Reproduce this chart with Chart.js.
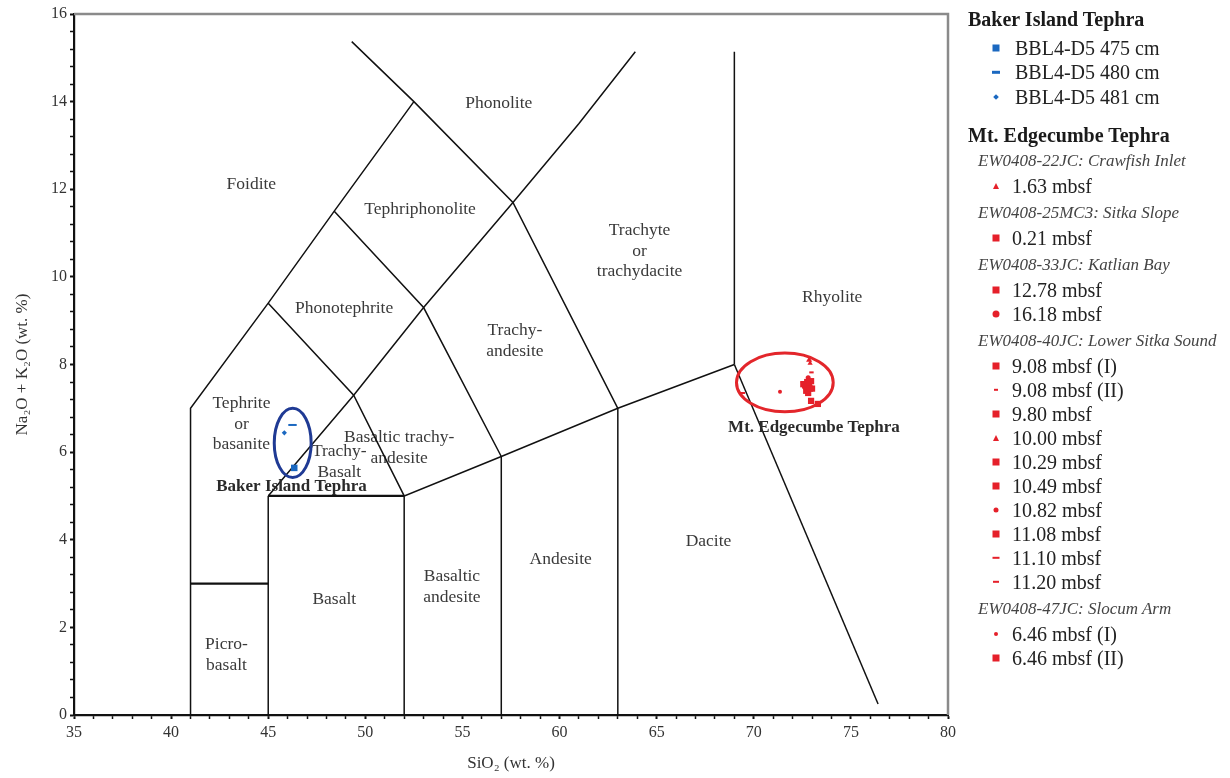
<!DOCTYPE html>
<html><head><meta charset="utf-8">
<script src="https://cdn.jsdelivr.net/npm/chart.js@4.4.1/dist/chart.umd.min.js"></script>
<style>
html,body{margin:0;padding:0;background:#fff;}
#wrap{position:absolute;left:0;top:0;width:960px;height:778px;}
#legend{position:absolute;left:0;top:0;width:1230px;height:778px;font-family:"Liberation Serif","Times New Roman",serif;color:#222;}
.row{position:absolute;white-space:nowrap;transform:translateY(-50%);line-height:1;}
.hdr{font-weight:bold;font-size:20px;color:#1a1a1a;}
.sub{font-style:italic;font-size:17px;color:#444;}
.item{font-size:20px;color:#222;}
.mk{position:absolute;transform:translate(-50%,-50%);}
</style></head>
<body>
<div id="wrap"><canvas id="c" width="960" height="778"></canvas></div>
<div id="legend"></div>
<script>
// ---------- DATA ----------
const xMajorTicks = [35,40,45,50,55,60,65,70,75,80];
const yMajorTicks = [0,2,4,6,8,10,12,14,16];

// TAS field boundaries (SiO2, Na2O+K2O)
const boundaryLines = [
  [[41,0],[41,7],[45,9.4],[48.4,11.5],[52.5,14]],
  [[41,3],[45,3]],
  [[45,0],[45,5]],
  [[45,5],[52,5]],
  [[52,0],[52,5],[57,5.9],[63,7],[69,8]],
  [[57,0],[57,5.9]],
  [[63,0],[63,7]],
  [[69,8],[69,15.14]],
  [[69,8],[76.4,0.25]],
  [[45,5],[49.4,7.3],[53,9.3],[57.6,11.7],[61,13.5],[63.9,15.14]],
  [[45,9.4],[49.4,7.3],[52,5]],
  [[48.4,11.5],[53,9.3],[57,5.9]],
  [[49.3,15.37],[52.5,14],[57.6,11.7],[63,7]]
];
const thickBoundary = [false,true,false,true,false,false,false,false,false,false,false,false,false];

const fieldNames = ['Phonolite','Foidite','Tephriphonolite','Trachyte\nor\ntrachydacite','Rhyolite','Phonotephrite',
  'Trachy-\nandesite','Tephrite\nor\nbasanite','Basaltic trachy-\nandesite','Trachy-\nBasalt','Dacite','Andesite',
  'Basaltic\nandesite','Basalt','Picro-\nbasalt'];
const fieldX = [56.87,44.13,52.82,64.12,74.04,48.91,57.7,43.62,51.74,48.66,67.67,60.06,54.46,48.4,42.85];
const fieldY = [13.97,12.10,11.53,10.59,9.54,9.29,8.54,6.64,6.10,5.78,3.97,3.56,2.92,2.63,1.37];

const groupNames = ['Baker Island Tephra','Mt. Edgecumbe Tephra'];
const groupLabelX = [46.2,73.1];
const groupLabelY = [5.21,6.55];
const ellipseCx = [46.26,71.6];
const ellipseCy = [6.21,7.59];
const ellipseRx = [0.95,2.49];
const ellipseRy = [0.79,0.67];

const bakerLabels = ['BBL4-D5 475 cm','BBL4-D5 480 cm','BBL4-D5 481 cm'];
const bakerSiO2 = [[46.34],[46.25],[45.83]];
const bakerAlk  = [[5.64],[6.62],[6.44]];

const edgeCores = ['EW0408-22JC: Crawfish Inlet','EW0408-25MC3: Sitka Slope','EW0408-33JC: Katlian Bay',
  'EW0408-40JC: Lower Sitka Sound','EW0408-47JC: Slocum Arm'];
const edgeLabels = ['1.63 mbsf','0.21 mbsf','12.78 mbsf','16.18 mbsf','9.08 mbsf (I)','9.08 mbsf (II)','9.80 mbsf',
  '10.00 mbsf','10.29 mbsf','10.49 mbsf','10.82 mbsf','11.08 mbsf','11.10 mbsf','11.20 mbsf','6.46 mbsf (I)','6.46 mbsf (II)'];
const edgeCoreIndex = [0,1,2,2,3,3,3,3,3,3,3,3,3,3,4,4];
const edgeSiO2 = [[72.85],[72.55],[72.75,72.9],[72.65],[72.95,72.7],[72.97],[72.85],[72.9],[72.95],[73.3],[72.8],[72.8],[72.6],[69.4],[71.35],[73.0]];
const edgeAlk  = [[8.1],[7.55],[7.6,7.45],[7.5],[7.62,7.4],[7.82],[7.5],[8.03],[7.17],[7.1],[7.7],[7.35],[7.6],[7.35],[7.38],[7.45]];

// ---------- STYLES ----------
const BLUE = '#1b68c0', RED = '#e5202a', NAVY = '#1f3a94', RED_ELL = '#e3262b';
const bakerStyles = ['rect','line','rectRot'];
const bakerRadius = [4.6,4.2,2.6];
const edgeStyles = ['triangle','rect','rect','circle','rect','line','rect','triangle','rect','rect','circle','rect','line','line','circle','rect'];
const edgeRadius = [3.5,4.4,4.4,3.4,4.4,2.2,4.4,3.0,4.4,4.4,2.5,4.4,3.5,3.0,2.0,4.4];

function pts(xs, ys){ return xs.map((x,i)=>({x:x, y:ys[i]})); }

const datasets = [];
boundaryLines.forEach((ln,i)=>{
  datasets.push({label:'b'+i, data: ln.map(p=>({x:p[0],y:p[1]})), showLine:true, pointRadius:0,
    borderColor:'#111', borderWidth: thickBoundary[i]?2.2:1.5, fill:false, order:10, tension:0});
});
bakerLabels.forEach((l,i)=>{
  datasets.push({label:l, data:pts(bakerSiO2[i],bakerAlk[i]), pointStyle:bakerStyles[i], pointRadius:bakerRadius[i],
    backgroundColor:BLUE, borderColor:BLUE, borderWidth: bakerStyles[i]==='line'?2:0, order:0});
});
edgeLabels.forEach((l,i)=>{
  datasets.push({label:l, data:pts(edgeSiO2[i],edgeAlk[i]), pointStyle:edgeStyles[i], pointRadius:edgeRadius[i],
    backgroundColor:RED, borderColor:RED, borderWidth: edgeStyles[i]==='line'?2:0, order:0});
});

const SERIF = '"Liberation Serif","Times New Roman",serif';

const overlay = {
  id:'overlay',
  beforeDatasetsDraw(chart){
    const {ctx, scales:{x,y}} = chart;
    ctx.save();
    ctx.fillStyle = '#3a3a3a';
    ctx.font = '17.5px ' + SERIF;
    ctx.textAlign = 'center'; ctx.textBaseline = 'middle';
    fieldNames.forEach((n,i)=>{
      const lines = n.split('\n');
      const cx = x.getPixelForValue(fieldX[i]), cy = y.getPixelForValue(fieldY[i]);
      const lh = 20.5;
      lines.forEach((t,k)=>ctx.fillText(t, cx, cy + (k-(lines.length-1)/2)*lh));
    });
    ctx.restore();
  },
  afterDatasetsDraw(chart){
    const {ctx, scales:{x,y}, chartArea:a} = chart;
    ctx.save();
    const cols=[NAVY,RED_ELL];
    for(let i=0;i<2;i++){
      const cx=x.getPixelForValue(ellipseCx[i]), cy=y.getPixelForValue(ellipseCy[i]);
      const rx=Math.abs(x.getPixelForValue(ellipseCx[i]+ellipseRx[i])-cx);
      const ry=Math.abs(y.getPixelForValue(ellipseCy[i]+ellipseRy[i])-cy);
      ctx.beginPath(); ctx.ellipse(cx,cy,rx,ry,0,0,Math.PI*2);
      ctx.strokeStyle=cols[i]; ctx.lineWidth=3; ctx.stroke();
    }
    ctx.fillStyle='#2a2a2a'; ctx.font='bold 17px '+SERIF; ctx.textAlign='center'; ctx.textBaseline='middle';
    groupNames.forEach((n,i)=>ctx.fillText(n, x.getPixelForValue(groupLabelX[i]), y.getPixelForValue(groupLabelY[i])));
    ctx.strokeStyle='#8a8a8a'; ctx.lineWidth=2.5;
    ctx.beginPath(); ctx.moveTo(a.left, a.top); ctx.lineTo(a.right, a.top); ctx.lineTo(a.right, a.bottom); ctx.stroke();
    ctx.restore();
  }
};

const isInt = v => Math.abs(v - Math.round(v)) < 1e-6;

new Chart(document.getElementById('c'), {
  type:'scatter',
  data:{datasets},
  options:{
    responsive:false, animation:false, events:[],
    layout:{padding:{top:14,right:8,left:0,bottom:0}},
    plugins:{legend:{display:false}, tooltip:{enabled:false}},
    scales:{
      x:{type:'linear', min:35, max:80,
        afterFit(s){ s.height = 63; },
        border:{color:'#111', width:2.2},
        grid:{drawOnChartArea:false, drawTicks:true, tickLength:4, tickColor:'#111',
          tickWidth:c=>(isInt(c.tick.value)&&xMajorTicks.includes(Math.round(c.tick.value)))?2:1.5},
        ticks:{stepSize:1, autoSkip:false, maxRotation:0, maxTicksLimit:100, padding:4, color:'#333',
          font:{family:SERIF,size:16},
          callback:v=> (isInt(v)&&xMajorTicks.includes(Math.round(v)))?String(Math.round(v)):''},
        title:{display:true, text:'SiO₂ (wt. %)', color:'#333', font:{family:SERIF,size:17}, padding:{top:0,bottom:4}}
      },
      y:{type:'linear', min:0, max:16,
        afterFit(s){ s.width = 74; },
        border:{color:'#111', width:2.2},
        grid:{drawOnChartArea:false, drawTicks:true, tickLength:4, tickColor:'#111',
          tickWidth:c=>(isInt(c.tick.value)&&yMajorTicks.includes(Math.round(c.tick.value)))?2:1.5},
        ticks:{stepSize:0.4, autoSkip:false, maxTicksLimit:100, padding:3, color:'#333',
          font:{family:SERIF,size:16},
          callback:v=> (isInt(v)&&yMajorTicks.includes(Math.round(v)))?String(Math.round(v)):''},
        title:{display:true, text:'Na₂O + K₂O (wt. %)', color:'#333', font:{family:SERIF,size:17}, padding:{top:12,bottom:0}}
      }
    }
  },
  plugins:[overlay]
});

// ---------- LEGEND (HTML) ----------
const legend = document.getElementById('legend');
function addRow(cls, text, left, top){
  const d=document.createElement('div'); d.className='row '+cls; d.textContent=text;
  d.style.left=left+'px'; d.style.top=top+'px'; legend.appendChild(d);
}
function addMarker(style, color, r, top){
  const m=document.createElement('div'); m.className='mk';
  m.style.left='996px'; m.style.top=top+'px';
  if(style==='rect'){ const s=Math.round(r*1.5); m.style.width=s+'px'; m.style.height=s+'px'; m.style.background=color; }
  else if(style==='line'){ m.style.width=Math.round(r*2)+'px'; m.style.height='2.4px'; m.style.background=color; }
  else if(style==='rectRot'){ m.style.width='4px'; m.style.height='4px'; m.style.background=color; m.style.transform='translate(-50%,-50%) rotate(45deg)'; }
  else if(style==='triangle'){ m.style.width='0'; m.style.height='0'; m.style.borderLeft='3.5px solid transparent'; m.style.borderRight='3.5px solid transparent'; m.style.borderBottom='6px solid '+color; }
  else if(style==='circle'){ const s=Math.round(r*2); m.style.width=s+'px'; m.style.height=s+'px'; m.style.borderRadius='50%'; m.style.background=color; }
  legend.appendChild(m);
}
let yy = 19;
addRow('hdr', groupNames[0], 968, yy);
yy += 29;
bakerLabels.forEach((l,i)=>{ if(i>0) yy+=24.3; addRow('item', l, 1015, yy); addMarker(bakerStyles[i], BLUE, bakerRadius[i], yy); });
yy += 38;
addRow('hdr', groupNames[1], 968, yy);
let prevCore=-1, prevType='hdr';
edgeLabels.forEach((l,i)=>{
  if(edgeCoreIndex[i]!==prevCore){
    yy += (prevType==='hdr')?25:25.5;
    addRow('sub', edgeCores[edgeCoreIndex[i]], 978, yy);
    prevCore=edgeCoreIndex[i]; prevType='sub';
  }
  yy += (prevType==='sub')?26.5:24.0;
  addRow('item', l, 1012, yy); addMarker(edgeStyles[i], RED, edgeRadius[i], yy);
  prevType='item';
});
</script>
</body></html>
